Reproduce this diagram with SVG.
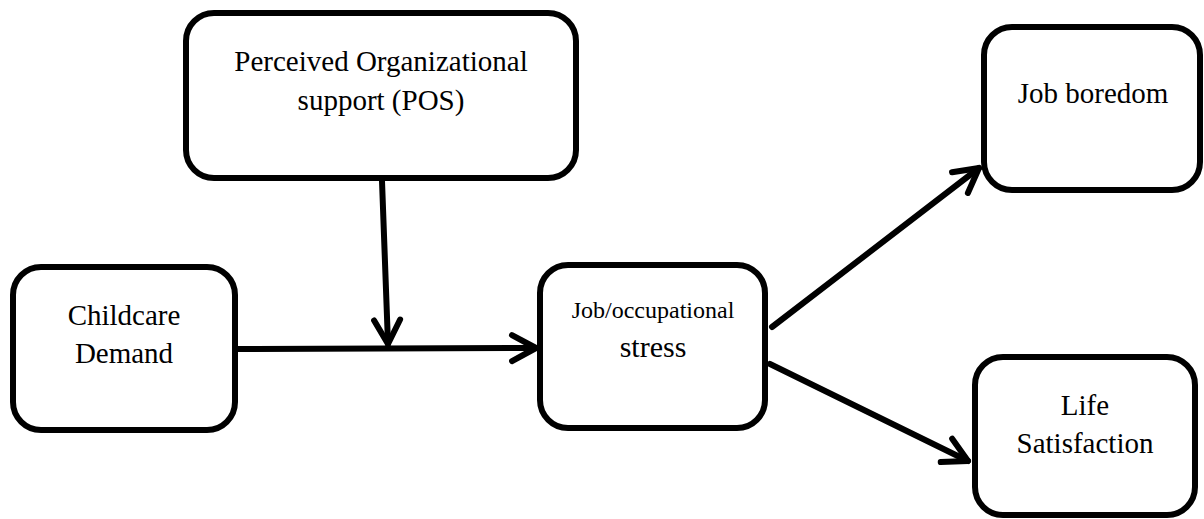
<svg xmlns="http://www.w3.org/2000/svg" width="1204" height="519" viewBox="0 0 1204 519">
<style>
.box{fill:#fff;stroke:#000;stroke-width:6}
.t{font-family:"Liberation Serif","Times New Roman",serif;font-size:29px;fill:#000;text-anchor:middle}
.c{fill:none;stroke:#000;stroke-width:6;stroke-linecap:round}
</style>
<defs>
<marker id="ah" markerUnits="userSpaceOnUse" viewBox="-32 -18 38 36" markerWidth="38" markerHeight="36" refX="0" refY="0" orient="auto" overflow="visible">
<path d="M-24,-13 L0,0 L-24,13" fill="none" stroke="#000" stroke-width="6" stroke-linecap="round" stroke-linejoin="round"/>
</marker>
</defs>
<rect width="1204" height="519" fill="#fff"/>
<g id="connectors">
<line class="c" x1="236" y1="349" x2="536" y2="348" marker-end="url(#ah)"/>
<line class="c" x1="382" y1="181" x2="388" y2="344" marker-end="url(#ah)"/>
<line class="c" x1="772" y1="327" x2="979" y2="168" marker-end="url(#ah)"/>
<line class="c" x1="770" y1="364" x2="968" y2="461" marker-end="url(#ah)"/>
</g>
<g id="pos">
<rect class="box" x="186" y="13" width="390" height="165" rx="28"/>
<text class="t" x="381" y="71">Perceived Organizational</text>
<text class="t" x="381" y="110">support (POS)</text>
</g>
<g id="childcare">
<rect class="box" x="13" y="267" width="222" height="163" rx="28"/>
<text class="t" x="124" y="325">Childcare</text>
<text class="t" x="124" y="363">Demand</text>
</g>
<g id="stress">
<rect class="box" x="540" y="265" width="225" height="163" rx="28"/>
<text class="t" x="653" y="318" style="font-size:24px">Job/occupational</text>
<text class="t" x="653" y="357" style="font-size:30px">stress</text>
</g>
<g id="boredom">
<rect class="box" x="984" y="27" width="216" height="163" rx="28"/>
<text class="t" x="1093" y="103">Job boredom</text>
</g>
<g id="life">
<rect class="box" x="975" y="357" width="220" height="158" rx="28"/>
<text class="t" x="1085" y="415">Life</text>
<text class="t" x="1085" y="453">Satisfaction</text>
</g>
</svg>
